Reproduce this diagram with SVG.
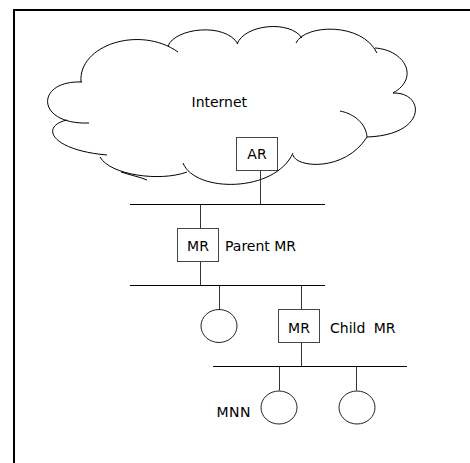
<svg xmlns="http://www.w3.org/2000/svg" width="470" height="463" viewBox="0 0 470 463">
<style>
.t{font-family:"DejaVu Sans","Verdana",sans-serif;font-size:14px;fill:#000}
.c{text-anchor:middle}
.cloud path{fill:none;stroke:#000;stroke-width:1}
.box{fill:#fff;stroke:#444;stroke-width:1}
.bus{stroke:#000;stroke-width:1}
.stem{stroke:#333;stroke-width:1}
.host{fill:#fff;stroke:#222;stroke-width:1}
</style>
<rect x="0" y="0" width="470" height="463" fill="#fff"/>
<path d="M14,463 V10 H470" fill="none" stroke="#000" stroke-width="2"/>
<g id="internet" class="cloud">
<path d="M81,82 C78,45 140,25 178,52"/>
<path d="M168,46 C175,28 225,22 238,44"/>
<path d="M237,44 C245,24 290,20 302,38"/>
<path d="M296,43 C305,24 362,22 377,53"/>
<path d="M375,48 C405,50 420,78 393,93"/>
<path d="M393,93 C425,92 428,135 367,137"/>
<path d="M340,111 C355,114 366,124 367,137"/>
<path d="M293,155 C296,168 345,172 367,137"/>
<path d="M183,163 C195,193 275,193 293,153"/>
<path d="M100,157 C110,175 160,182 187,172"/>
<path d="M121,172 C130,175 140,177 147,180"/>
<path d="M67,120 C40,126 50,150 107,155"/>
<path d="M82,82 C35,80 35,125 89,123"/>
<text class="t" x="191.5" y="107">Internet</text>
</g>
<g id="connectors">
<line class="stem" x1="260.5" y1="171" x2="260.5" y2="204.5"/>
<line class="bus" x1="130" y1="204.5" x2="325" y2="204.5"/>
<line class="stem" x1="200.5" y1="204.5" x2="200.5" y2="228.5"/>
<line class="stem" x1="200.5" y1="261.5" x2="200.5" y2="285.5"/>
<line class="bus" x1="130" y1="285.5" x2="325" y2="285.5"/>
<line class="stem" x1="219.5" y1="285.5" x2="219.5" y2="309.5"/>
<line class="stem" x1="301.5" y1="285.5" x2="301.5" y2="309.5"/>
<line class="stem" x1="301.5" y1="342.5" x2="301.5" y2="366.5"/>
<line class="bus" x1="213" y1="366.5" x2="407" y2="366.5"/>
<line class="stem" x1="279.5" y1="366.5" x2="279.5" y2="390.5"/>
<line class="stem" x1="356.5" y1="366.5" x2="356.5" y2="390.5"/>
</g>
<g id="ar">
<rect class="box" x="236.5" y="137.5" width="41" height="33"/>
<text class="t c" x="257" y="159">AR</text>
</g>
<g id="parent-mr">
<rect class="box" x="177.5" y="228.5" width="41" height="33"/>
<text class="t c" x="198" y="251">MR</text>
<text class="t" x="225" y="251">Parent MR</text>
</g>
<g id="host1">
<ellipse class="host" cx="219" cy="326" rx="18" ry="16.5"/>
</g>
<g id="child-mr">
<rect class="box" x="278.5" y="309.5" width="41" height="33"/>
<text class="t c" x="299" y="332.5">MR</text>
<text class="t" x="330" y="332.5" word-spacing="4">Child MR</text>
</g>
<g id="mnn">
<ellipse class="host" cx="279" cy="407.5" rx="18" ry="16.5"/>
<text class="t" x="216.5" y="416.5" letter-spacing="0.5">MNN</text>
</g>
<g id="host3">
<ellipse class="host" cx="357" cy="407.5" rx="18" ry="16.5"/>
</g>
</svg>
